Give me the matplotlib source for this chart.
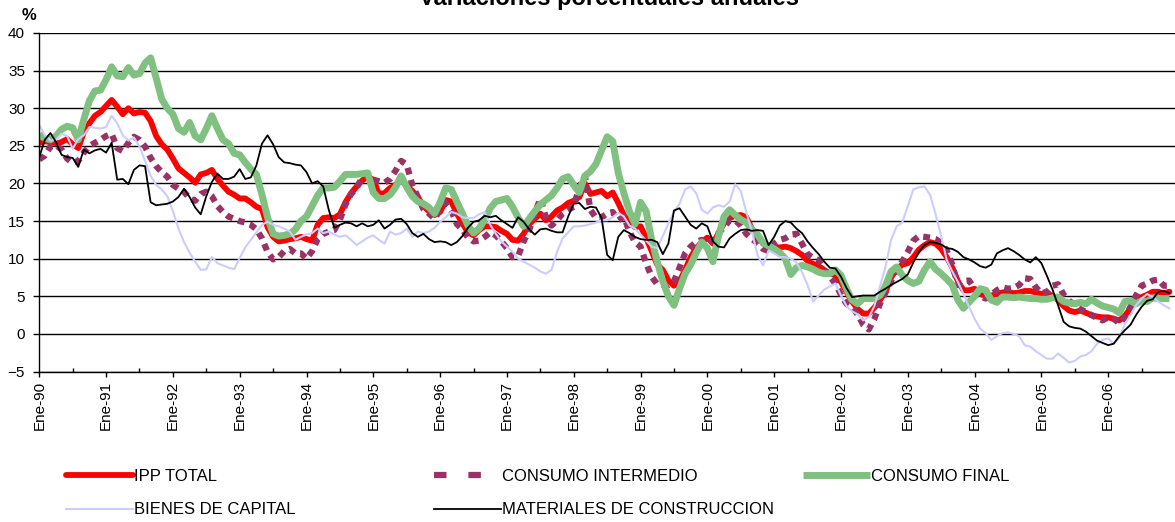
import matplotlib as mpl
mpl.use('Agg')
import numpy as np
import matplotlib.pyplot as plt
from matplotlib.lines import Line2D

plt.rcParams['font.family'] = ['Liberation Sans', 'DejaVu Sans']

## monthly series, Ene-90 .. Dic-06 (204 months), % annual change
years = ['90', '91', '92', '93', '94', '95', '96', '97', '98', '99',
         '00', '01', '02', '03', '04', '05', '06']
tick_labels = ['Ene-%s' % y for y in years]

ipp_total = [
    25.4, 25.6, 25.5, 25.3, 25.5, 25.9, 25.2, 24.7, 26.8, 28.0, 29.0, 29.5,
    30.3, 31.1, 30.2, 29.2, 30.0, 29.3, 29.5, 29.4, 28.3, 26.3, 25.2, 24.5,
    23.3, 22.0, 21.4, 20.8, 20.1, 21.2, 21.4, 21.8, 20.6, 19.7, 18.9, 18.5,
    18.0, 18.0, 17.5, 16.9, 16.6, 14.2, 12.9, 12.3, 12.4, 12.6, 12.7, 12.9,
    12.6, 12.4, 14.5, 15.4, 15.5, 15.4, 15.9, 17.5, 18.7, 19.6, 20.4, 20.9,
    20.5, 18.6, 18.7, 19.4, 19.8, 20.5, 19.6, 19.0, 18.2, 17.0, 16.3, 15.8,
    16.2, 17.8, 17.6, 16.0, 14.7, 13.5, 13.1, 13.8, 14.3, 14.3, 14.2, 13.7,
    13.3, 12.5, 12.4, 13.3, 14.6, 15.3, 16.0, 15.1, 15.6, 16.4, 16.8, 17.4,
    17.7, 18.2, 20.0, 18.6, 18.8, 19.0, 18.3, 18.8, 17.4, 15.8, 14.8, 14.2,
    14.3, 12.8, 11.0, 9.2, 8.5, 7.1, 6.4, 7.0, 8.5, 10.2, 11.4, 12.2,
    12.8, 12.0, 13.4, 14.7, 15.4, 15.7, 15.8, 15.5, 14.0, 13.0, 12.0, 11.7,
    11.5, 11.5, 11.6, 11.4, 11.0, 10.5, 9.7, 9.3, 9.0, 8.5, 8.0, 7.8,
    6.9, 5.6, 4.3, 3.3, 2.7, 2.7, 3.5, 4.5, 5.6, 7.5, 8.6, 9.2,
    9.4, 10.2, 11.2, 11.8, 12.2, 12.0, 11.3, 10.2, 8.8, 7.0, 5.8, 5.8,
    6.0, 5.3, 5.1, 5.1, 5.3, 5.5, 5.6, 5.4, 5.5, 5.7, 5.7, 5.5,
    5.3, 5.3, 5.1, 4.5, 3.7, 3.1, 2.9, 3.1, 2.8, 2.5, 2.3, 2.2,
    2.2, 2.0, 1.8, 2.4, 3.4, 4.5, 4.9, 5.2, 5.6, 5.6, 5.4, 5.6,
]

consumo_intermedio = [
    23.2, 23.7, 24.9, 25.1, 24.5, 23.3, 22.7, 23.0, 24.1, 25.0, 25.4, 25.8,
    26.3, 26.6, 24.7, 24.3, 25.4, 26.2, 25.8, 24.9, 23.4, 22.3, 21.5, 20.9,
    19.8, 19.3, 18.9, 18.0, 17.7, 18.6, 18.9, 18.3, 17.0, 16.2, 15.6, 15.3,
    15.0, 14.8, 14.5, 13.9, 12.7, 10.9, 9.9, 10.2, 11.0, 11.3, 10.7, 10.7,
    10.0, 11.0, 12.6, 13.3, 13.6, 13.8, 15.2, 17.2, 18.6, 19.4, 20.8, 21.3,
    20.5, 20.3, 20.1, 20.6, 21.7, 23.0, 22.5, 19.8, 18.2, 16.6, 16.0, 15.3,
    16.5, 17.4, 16.4, 14.6, 13.9, 12.8, 12.3, 12.4, 12.9, 13.5, 13.1, 12.3,
    11.4, 10.2, 10.3, 12.3, 13.8, 16.0, 18.0, 15.5, 14.4, 15.1, 16.0, 16.5,
    16.9, 19.5, 21.0, 16.5, 15.4, 15.5, 16.0, 16.2, 15.1, 15.6, 13.6, 12.2,
    11.6, 9.4, 7.6, 6.6, 6.5, 6.5, 7.0, 8.8, 10.7, 11.6, 12.2, 12.5,
    11.9, 12.5, 13.4, 14.2, 15.1, 15.1, 14.4, 13.3, 12.6, 12.1, 11.3, 11.0,
    12.0, 12.5, 12.7, 13.2, 13.3, 12.0, 10.6, 10.1, 9.8, 8.4, 7.6, 6.7,
    5.2, 4.0, 3.5, 2.6, 1.2, 0.6, 2.0, 4.0, 5.5, 7.0, 8.6, 9.6,
    10.9, 12.4, 13.0, 12.9, 12.8, 12.6, 12.1, 11.1, 9.2, 6.5, 7.0, 7.1,
    6.0, 5.0, 4.7, 5.2, 5.8, 6.2, 6.0, 6.1, 6.5, 7.4, 7.3, 6.2,
    5.4, 5.6, 6.4, 6.6, 5.2, 4.4, 3.8, 3.3, 2.9, 2.5, 2.1, 1.8,
    2.2, 2.0, 1.4, 2.2, 3.6, 5.1, 6.4, 6.7, 7.1, 7.2, 6.4, 6.4,
]

consumo_final = [
    26.5, 26.0, 25.8, 26.3, 27.2, 27.6, 27.4, 25.8, 28.5, 31.0, 32.3, 32.4,
    33.8, 35.5, 34.3, 34.2, 35.4, 34.4, 34.6, 36.0, 36.7, 34.0, 31.2, 30.0,
    29.2, 27.3, 26.8, 28.1, 26.3, 25.8, 27.3, 29.0, 27.3, 25.8, 25.3, 24.0,
    23.8, 22.8, 21.9, 21.2, 18.5, 15.5, 13.3, 13.0, 13.1, 13.3, 13.9, 15.0,
    15.6, 17.0, 18.4, 19.4, 19.4, 19.5, 20.3, 21.2, 21.2, 21.2, 21.3, 21.4,
    18.8, 18.0, 18.0, 18.5, 19.5, 21.0, 19.5, 18.3, 17.6, 17.3, 16.8, 16.0,
    17.5, 19.4, 19.2, 17.6, 16.0, 14.4, 13.4, 14.0, 15.2, 16.7, 17.6, 17.8,
    18.0, 16.9, 15.5, 14.3, 15.3, 16.3, 17.2, 17.8, 18.4, 19.4, 20.6, 20.9,
    19.8, 18.8, 21.0, 21.6, 22.6, 24.4, 26.2, 25.6, 21.4, 18.7, 16.3, 14.6,
    17.5, 16.3, 12.5, 9.6, 7.0, 5.0, 3.8, 6.0, 8.0, 9.2, 10.8, 12.2,
    11.4, 9.6, 13.0, 15.6, 16.5, 15.8, 15.2, 14.8, 13.9, 13.2, 12.1, 11.7,
    11.3, 10.8, 10.0, 7.9, 8.8, 9.1, 8.9, 8.6, 8.2, 8.0, 8.0, 8.5,
    7.8, 6.0, 4.5, 4.0, 4.7, 4.7, 4.7, 5.1, 6.4, 8.3, 8.9, 7.8,
    7.1, 6.7, 7.0, 8.5, 9.6, 8.6, 8.0, 7.3, 6.5, 4.5, 3.4, 4.2,
    5.0, 6.0, 5.8, 4.5, 4.2, 4.9, 4.9, 4.8, 4.9, 4.8, 4.7, 4.7,
    4.6, 4.6, 4.8, 4.9, 4.3, 4.1, 4.0, 4.2, 4.0, 4.6, 4.1, 3.7,
    3.5, 3.3, 2.8, 4.3, 4.4, 4.0, 4.4, 4.3, 4.8, 4.7, 4.7, 4.7,
]

bienes_capital = [
    27.8, 26.4, 25.7, 25.8, 26.6, 26.3, 24.6, 25.9, 26.4, 27.5, 27.4, 27.3,
    27.5, 29.0, 28.0, 26.4, 25.7, 26.1, 24.9, 23.0, 21.0, 19.8, 19.2, 18.3,
    16.3, 14.0, 12.2, 10.8, 9.6, 8.5, 8.6, 10.2, 9.4, 9.1, 8.8, 8.6,
    10.1, 11.5, 12.5, 13.5, 14.5, 14.9, 14.5, 14.3, 14.0, 13.6, 12.5, 12.9,
    13.2, 13.4, 14.0, 13.4, 13.6, 13.2, 12.9, 13.1, 12.5, 11.8, 12.3, 12.8,
    13.1, 12.5, 12.0, 13.6, 13.2, 13.4, 14.0, 12.9, 13.6, 13.4, 13.6, 14.1,
    14.9, 15.5, 16.2, 16.0, 15.5, 15.4, 15.4, 15.9, 16.2, 14.5, 13.3, 12.3,
    11.6, 10.9, 10.0, 9.6, 9.2, 8.8, 8.3, 8.0, 8.5, 10.9, 12.7, 13.5,
    14.3, 14.3, 14.4, 14.6, 14.8, 15.1, 15.1, 15.5, 16.1, 15.6, 14.4, 14.0,
    13.2, 12.4, 11.6, 11.4, 13.0, 14.7, 16.2, 17.3, 19.2, 19.6, 18.7, 16.5,
    16.0, 16.8, 17.1, 16.9, 17.6, 19.9, 19.0, 16.2, 13.6, 10.5, 9.1, 11.1,
    10.7, 10.2, 10.2, 10.0, 9.5, 8.2, 6.5, 4.3, 5.1, 5.9, 6.3, 6.7,
    5.1, 3.7, 3.0, 2.6, 1.8, 2.2, 3.7, 6.3, 8.9, 12.5, 14.3, 14.8,
    17.0, 19.2, 19.5, 19.6, 18.5, 15.9, 13.0, 9.8, 8.3, 6.9, 5.3, 3.6,
    2.0, 0.7, 0.1, -0.8, -0.3, 0.1, 0.2, 0.0, -0.3, -1.5, -1.7, -2.3,
    -2.8, -3.3, -3.3, -2.6, -3.2, -3.8, -3.6, -3.0, -2.8, -2.3, -1.3, -0.8,
    -0.6, -1.3, -0.5, 1.3, 2.5, 3.8, 4.7, 5.3, 4.9, 4.3, 3.8, 3.4,
]

materiales = [
    23.5, 25.8, 26.7, 25.5, 23.8, 23.5, 23.4, 22.2, 24.5, 24.0, 24.4, 24.6,
    24.1, 25.4, 20.5, 20.6, 19.9, 21.8, 22.4, 22.3, 17.5, 17.1, 17.2, 17.3,
    17.6, 18.2, 19.3, 18.2, 16.8, 15.9, 18.3, 20.2, 21.3, 20.6, 20.6, 20.9,
    21.9, 20.6, 20.8, 22.4, 25.3, 26.4, 25.2, 23.5, 22.8, 22.7, 22.5, 22.4,
    21.5, 20.0, 20.3, 19.6, 16.5, 14.1, 14.5, 14.8, 14.7, 14.3, 14.7, 14.3,
    14.5, 15.1, 14.0, 14.5, 15.2, 15.3, 14.6, 13.4, 12.9, 13.3, 12.6, 12.2,
    12.3, 12.2, 11.8, 12.2, 13.0, 14.1, 14.9, 15.1, 15.7, 15.5, 15.7, 15.1,
    14.6, 14.1, 15.5, 14.9, 13.9, 13.2, 13.9, 14.0, 13.7, 13.5, 13.5, 15.6,
    17.3, 17.4, 16.6, 16.9, 16.8, 15.4, 10.5, 9.8, 12.9, 13.8, 13.4, 12.9,
    12.6, 12.5, 12.5, 12.2, 10.6, 12.0, 16.4, 16.7, 15.6, 14.5, 14.0, 14.7,
    14.3, 12.3, 11.6, 11.5, 12.7, 13.3, 13.8, 13.9, 13.7, 13.8, 13.7, 11.8,
    12.9, 14.4, 15.0, 14.8, 14.0, 13.4, 12.3, 11.4, 10.6, 9.6, 8.8, 8.7,
    7.6, 6.1, 4.9, 5.0, 5.1, 5.1, 5.1, 5.6, 6.0, 6.5, 6.9, 7.3,
    7.9, 9.5, 10.9, 11.8, 12.2, 12.1, 11.9, 11.4, 11.3, 10.9, 10.2, 9.9,
    9.5, 9.0, 8.8, 9.2, 10.7, 11.1, 11.4, 11.0, 10.5, 9.9, 9.5, 10.2,
    9.4, 7.7, 5.9, 3.8, 1.6, 1.0, 0.8, 0.7, 0.3, -0.3, -0.9, -1.2,
    -1.5, -1.3, -0.3, 0.5, 1.2, 2.5, 3.6, 4.4, 4.6, 5.6, 5.7, 5.4,
]

series = [
    ('IPP TOTAL', ipp_total, dict(color='#ff0000', lw=4.2, solid_capstyle='round', solid_joinstyle='round')),
    ('CONSUMO INTERMEDIO', consumo_intermedio, dict(color='#993366', lw=4.5, ls=(0, (1.1, 0.9)), dash_capstyle='butt')),
    ('CONSUMO FINAL', consumo_final, dict(color='#80c080', lw=5.0, solid_capstyle='butt', solid_joinstyle='round')),
    ('BIENES DE CAPITAL', bienes_capital, dict(color='#ccccff', lw=1.5)),
    ('MATERIALES DE CONSTRUCCION', materiales, dict(color='black', lw=1.3)),
]

for name, vals, style in series:
    assert len(vals) == 204, '%s has %d values' % (name, len(vals))

W, H = 1175, 522
fig = plt.figure(figsize=(W / 100, H / 100), dpi=100)
ax = fig.add_axes([39 / W, 1 - 371.5 / H, 1 - 39 / W, (371.5 - 33) / H])

lines = {}
for name, vals, style in series:
    lines[name], = ax.plot(np.arange(len(vals)), vals, label=name, **style)

## the legend sample of the dotted series uses wider spaced squares
lines['CONSUMO INTERMEDIO'] = Line2D([], [], color='#993366', lw=4.5, ls=(0, (2.0, 3.5)),
                                     dash_capstyle='butt', label='CONSUMO INTERMEDIO')

ax.set_xlim(-0.05, 204.0)
ax.set_ylim(-5, 40)
ax.set_yticks(range(-5, 41, 5))
ax.yaxis.grid(True, color='black', lw=1.0)
ax.set_axisbelow(True)

ax.set_xticks(range(0, 204, 12))
ax.set_xticklabels(tick_labels)
ax.set_xticks(range(6, 204, 12), minor=True)
ax.tick_params(axis='x', which='major', direction='out', length=3.5, width=1.0,
               labelrotation=90, labelsize=11, pad=3)
ax.tick_params(axis='x', which='minor', direction='in', length=3, width=1.0)
ax.tick_params(axis='y', direction='out', length=4, width=1.0, labelsize=11, pad=6)

for s in ('top', 'right'):
    ax.spines[s].set_visible(False)
for s in ('left', 'bottom'):
    ax.spines[s].set_linewidth(1.0)
    ax.spines[s].set_color('black')

fig.text(0.518, 1 - 5 / H, 'Variaciones porcentuales anuales', ha='center', va='baseline',
         fontsize=17, fontweight='bold')
fig.text(29 / W, 1 - 15 / H, '%', ha='center', va='center', fontsize=12, fontweight='bold')

## legend: three columns laid out like the original
cols = [['IPP TOTAL', 'BIENES DE CAPITAL'],
        ['CONSUMO INTERMEDIO', 'MATERIALES DE CONSTRUCCION'],
        ['CONSUMO FINAL']]
col_x = [66, 434, 803]
for names, x0 in zip(cols, col_x):
    fig.legend(handles=[lines[n] for n in names], loc='upper left',
               bbox_to_anchor=(x0 / W, 1 - 469 / H), frameon=False, fontsize=12,
               handlelength=4.0, handletextpad=0.08, borderpad=0, borderaxespad=0,
               labelspacing=1.1)

plt.savefig('out.png', dpi=100)
